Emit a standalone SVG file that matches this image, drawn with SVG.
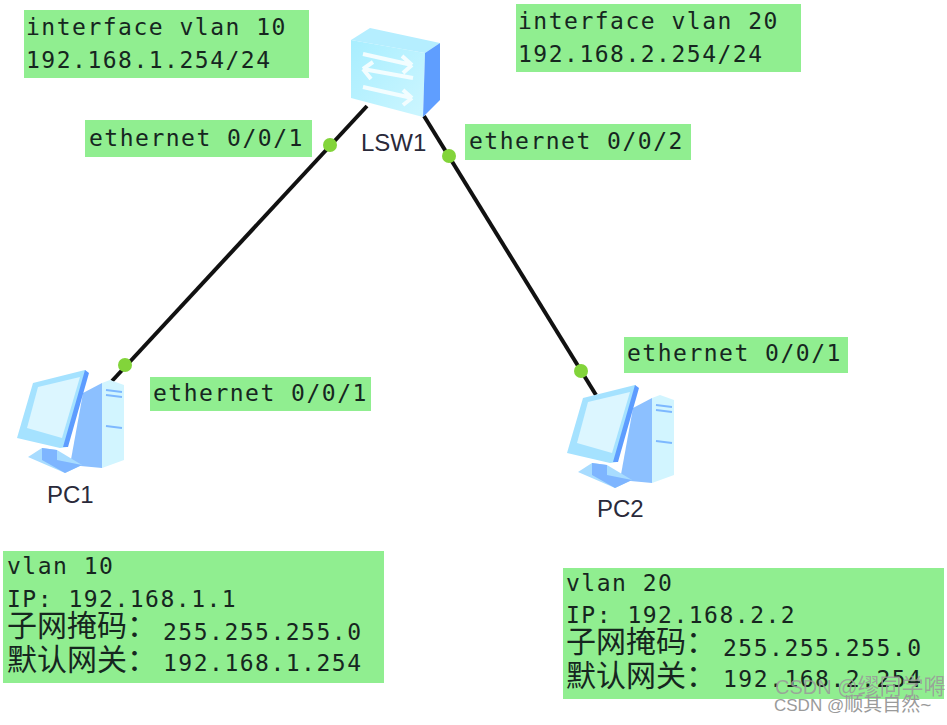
<svg xmlns="http://www.w3.org/2000/svg" width="947" height="725" viewBox="0 0 947 725">
<style>
.box{fill:#90ee90}
.t{font-family:"DejaVu Sans Mono","Liberation Mono",monospace;font-size:23px;fill:#16261f;letter-spacing:1.5px}
.c{font-family:"Noto Sans CJK SC","Liberation Sans",sans-serif;font-size:30px;fill:#16261f}
.n{font-family:"Liberation Sans",Arial,sans-serif;font-size:24px;fill:#2a2a3a}
.w{font-family:"Liberation Sans","Noto Sans CJK SC",sans-serif;fill:#9a9a9a}
.w1{font-size:20px;opacity:.85}
.w1 tspan{font-size:22px}
.w2{font-size:17px}
.w2 tspan{font-size:19px}
.link{stroke:#111;stroke-width:4;fill:none}
.dot{fill:#82d43a}
.soft{filter:url(#soft)}
</style>
<defs>
<filter id="soft" x="-5%" y="-5%" width="110%" height="110%"><feGaussianBlur stdDeviation="0.6"/></filter>
<linearGradient id="sw" x1="0" y1="0" x2="1" y2="1"><stop offset="0" stop-color="#a8eeff"/><stop offset="1" stop-color="#cdf6ff"/></linearGradient>
<g id="pc">
<path d="M102 33 L83 43 L70 115 L102 118Z" fill="#8cc0ff"/>
<path d="M102 33 L110 30 L124 35 L124 110 L102 118Z" fill="#d2f5ff"/>
<path d="M106 40 L122 42 M106 45 L122 47 M106 76 L122 78" stroke="#7db8ff" stroke-width="2"/>
<path d="M28 107 L42 98 L57 100 L82 115 L65 123Z" fill="#a8dcff"/>
<path d="M42 98 L57 100 L57 110 L82 115 L65 123 L42 110Z" fill="#7eb5ff"/>
<path d="M17 88 L33 33 L85 20 L88 23 L67 97 L60 98Z" fill="#a5e2ff"/>
<path d="M27 78 L38 37 L80 27 L62 88Z" fill="#dcf6ff"/>
<path d="M85 20 L89 23 L68 97 L63 97Z" fill="#5d9cff"/>
</g>
</defs>
<rect width="947" height="725" fill="#fff"/>
<g id="connectors">
<line class="link" x1="367" y1="106" x2="112" y2="381"/>
<line class="link" x1="424" y1="116" x2="596" y2="395"/>
<circle class="dot" cx="330" cy="145" r="7"/>
<circle class="dot" cx="449" cy="156" r="7"/>
<circle class="dot" cx="125" cy="365" r="7"/>
<circle class="dot" cx="581" cy="371" r="7"/>
</g>
<g id="LSW1">
<g class="soft">
<path d="M351 40 L425 53 L423 117 L351 98Z" fill="url(#sw)"/>
<path d="M351 40 L370 28 L440 43 L425 53Z" fill="#b5eeff"/>
<path d="M425 53 L440 43 L440 100 L423 117Z" fill="#5e9eff"/>
<path d="M363 54 L412 65 M412 65 L402 56 M412 65 L403 73 M413 78 L363 69 M363 69 L373 62 M363 69 L371 79 M363 87 L412 98 M412 98 L403 90 M412 98 L403 105" stroke="#f2fdff" stroke-width="4" fill="none"/>
</g>
<text class="n" x="361" y="151">LSW1</text>
</g>
<g id="PC1"><use class="soft" href="#pc" x="0" y="350"/><text class="n" x="47" y="503">PC1</text></g>
<g id="PC2"><use class="soft" href="#pc" x="550" y="365"/><text class="n" x="597" y="517">PC2</text></g>
<g id="if10"><rect class="box" x="24" y="10" width="285" height="68"/><text class="t" x="26" y="35">interface vlan 10</text><text class="t" x="26" y="68">192.168.1.254/24</text></g>
<g id="if20"><rect class="box" x="516" y="4" width="285" height="68"/><text class="t" x="518" y="29">interface vlan 20</text><text class="t" x="518" y="62">192.168.2.254/24</text></g>
<g id="e1"><rect class="box" x="85" y="120" width="227" height="37"/><text class="t" x="89" y="146">ethernet 0/0/1</text></g>
<g id="e2"><rect class="box" x="465" y="124" width="226" height="36"/><text class="t" x="469" y="149">ethernet 0/0/2</text></g>
<g id="e3"><rect class="box" x="150" y="377" width="221" height="34"/><text class="t" x="153" y="401">ethernet 0/0/1</text></g>
<g id="e4"><rect class="box" x="624" y="337" width="224" height="36"/><text class="t" x="627" y="361">ethernet 0/0/1</text></g>
<g id="info1"><rect class="box" x="3" y="551" width="381" height="132"/>
<text class="t" x="7" y="574">vlan 10</text><text class="t" x="7" y="607">IP: 192.168.1.1</text>
<text class="c" x="7" y="636">子网掩码：</text><text class="t" x="163" y="640">255.255.255.0</text>
<text class="c" x="7" y="670">默认网关：</text><text class="t" x="163" y="671">192.168.1.254</text></g>
<g id="info2"><rect class="box" x="563" y="568" width="381" height="131"/>
<text class="t" x="566" y="591">vlan 20</text><text class="t" x="566" y="623">IP: 192.168.2.2</text>
<text class="c" x="566" y="652">子网掩码：</text><text class="t" x="723" y="656">255.255.255.0</text>
<text class="c" x="566" y="686">默认网关：</text><text class="t" x="723" y="687">192.168.2.254</text></g>
<g id="watermark"><text class="w w1" x="775" y="694">CSDN @<tspan>缪同学嘚</tspan></text><text class="w w2" x="774" y="711">CSDN @<tspan>顺其自然~</tspan></text></g>
</svg>
